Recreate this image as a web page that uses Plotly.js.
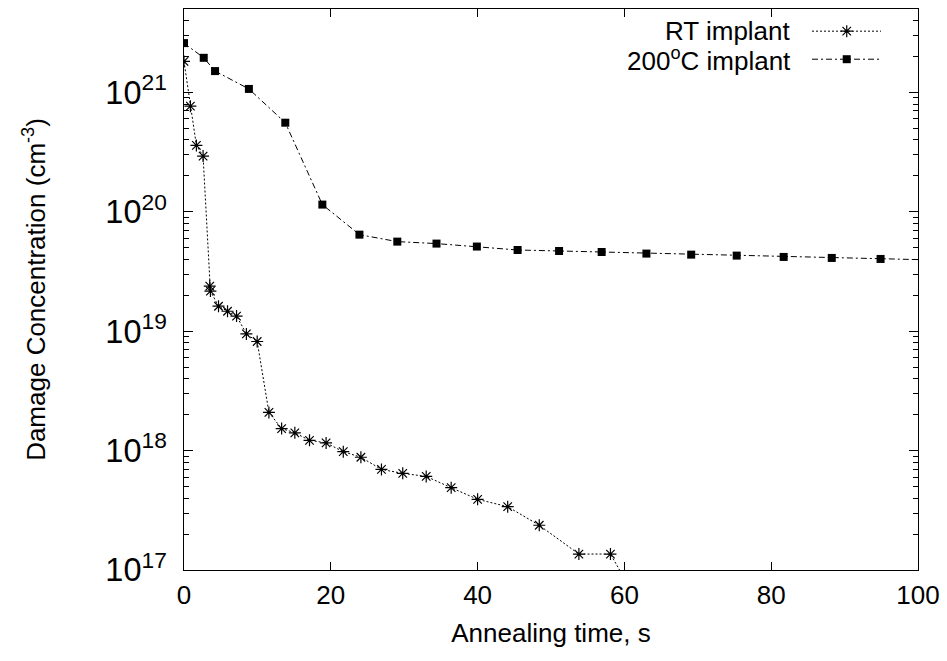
<!DOCTYPE html>
<html>
<head>
<meta charset="utf-8">
<script src="https://cdn.plot.ly/plotly-3.0.1.min.js"></script>
<style>
  html, body { margin: 0; padding: 0; background: #fff; }
  #chart { width: 947px; height: 661px; }
</style>
</head>
<body>
<div id="chart"></div>
<script>
// ---- Data ----
const seriesNames = ["RT implant", "200<sup>o</sup>C implant"];

const rtTime = [0, 0.87, 1.69, 2.6, 3.51, 3.6, 4.7, 5.93, 7.16, 8.5, 9.97,
  11.57, 13.3, 15.1, 17.1, 19.36, 21.7, 24.1, 26.9, 29.8, 33.0, 36.4, 40.0,
  44.1, 48.4, 53.8, 58.1, 60.0];
const rtConc = [1.82e21, 7.67e20, 3.6e20, 2.93e20, 2.39e19, 2.17e19, 1.62e19,
  1.47e19, 1.34e19, 9.5e18, 8.2e18, 2.09e18, 1.53e18, 1.41e18, 1.22e18,
  1.16e18, 9.8e17, 8.8e17, 6.96e17, 6.45e17, 6.08e17, 4.89e17, 3.91e17,
  3.39e17, 2.37e17, 1.36e17, 1.36e17, 8.5e16];

const hotTime = [0, 2.69, 4.23, 8.84, 13.8, 18.85, 23.9, 29.06, 34.4, 39.9,
  45.45, 51.1, 56.9, 63.0, 69.1, 75.3, 81.7, 88.25, 94.9, 101.5];
const hotConc = [2.59e21, 1.95e21, 1.51e21, 1.07e21, 5.58e20, 1.15e20,
  6.44e19, 5.63e19, 5.42e19, 5.12e19, 4.79e19, 4.70e19, 4.61e19, 4.47e19,
  4.38e19, 4.30e19, 4.19e19, 4.11e19, 4.03e19, 3.96e19];

const xTitle = "Annealing time, s";
const yTitle = "Damage Concentration (cm<sup>-3</sup>)";

// ---- Styles ----
const FONT = "Liberation Sans, Arial, Helvetica, sans-serif";
const FS = 26;
const rtStyle = {
  line: { color: "#000", width: 1, dash: "2px,2px" },
  marker: { symbol: "asterisk-open", size: 10, color: "#000", line: { color: "#000", width: 1.2 } }
};
const hotStyle = {
  line: { color: "#000", width: 1, dash: "6px,3px,2px,3px" },
  marker: { symbol: "square", size: 8, color: "#000", line: { width: 0 } }
};

// legend key placement (in a 0..1 helper frame spanning the plot area)
const legendKey = { x0: 0.8556, x1: 0.9496, xm: 0.9029, rows: [0.9605, 0.9105], textX: 0.8293 };

const traces = [
  Object.assign({ x: rtTime, y: rtConc, type: "scatter", mode: "lines+markers",
    name: seriesNames[0], showlegend: false, xaxis: "x", yaxis: "y" }, rtStyle),
  Object.assign({ x: hotTime, y: hotConc, type: "scatter", mode: "lines+markers",
    name: seriesNames[1], showlegend: false, xaxis: "x", yaxis: "y" }, hotStyle),
  // legend keys (line + marker), drawn on a hidden helper frame
  Object.assign({ x: [legendKey.x0, legendKey.x1], y: [legendKey.rows[0], legendKey.rows[0]],
    type: "scatter", mode: "lines", showlegend: false, hoverinfo: "skip",
    xaxis: "x2", yaxis: "y2" }, { line: rtStyle.line }),
  Object.assign({ x: [legendKey.xm], y: [legendKey.rows[0]], type: "scatter", mode: "markers",
    showlegend: false, hoverinfo: "skip", xaxis: "x2", yaxis: "y2" }, { marker: rtStyle.marker }),
  Object.assign({ x: [legendKey.x0, legendKey.x1], y: [legendKey.rows[1], legendKey.rows[1]],
    type: "scatter", mode: "lines", showlegend: false, hoverinfo: "skip",
    xaxis: "x2", yaxis: "y2" }, { line: hotStyle.line }),
  Object.assign({ x: [legendKey.xm], y: [legendKey.rows[1]], type: "scatter", mode: "markers",
    showlegend: false, hoverinfo: "skip", xaxis: "x2", yaxis: "y2" }, { marker: hotStyle.marker })
];

const layout = {
  width: 947, height: 661,
  margin: { l: 184, r: 29, t: 9, b: 91 },
  paper_bgcolor: "#fff", plot_bgcolor: "#fff",
  font: { family: FONT, size: FS, color: "#000" },
  showlegend: false,
  xaxis: {
    range: [0, 100], dtick: 20, tick0: 0,
    showline: true, linecolor: "#000", linewidth: 1, mirror: "allticks",
    ticks: "inside", ticklen: 8, tickwidth: 1, tickcolor: "#000",
    showgrid: false, zeroline: false,
    ticklabelstandoff: 2,
    tickfont: { family: FONT, size: FS },
    title: { text: xTitle, standoff: 14, font: { family: FONT, size: FS } }
  },
  yaxis: {
    type: "log", range: [17, Math.log10(5e21)], dtick: 1,
    exponentformat: "power", showexponent: "all",
    showline: true, linecolor: "#000", linewidth: 1, mirror: "allticks",
    ticks: "inside", ticklen: 9, tickwidth: 1, tickcolor: "#000",
    minor: { ticks: "inside", ticklen: 5, tickwidth: 1, tickcolor: "#000", dtick: "D1", showgrid: false },
    showgrid: false, zeroline: false,
    ticklabelstandoff: 11,
    tickfont: { family: FONT, size: FS },
    title: { text: yTitle, standoff: 52, font: { family: FONT, size: FS } }
  },
  xaxis2: { range: [0, 1], overlaying: "x", anchor: "y2", visible: false, fixedrange: true },
  yaxis2: { range: [0, 1], overlaying: "y", anchor: "x2", visible: false, fixedrange: true },
  annotations: [
    { xref: "x2", yref: "y2", x: legendKey.textX, y: legendKey.rows[0], text: seriesNames[0],
      showarrow: false, xanchor: "right", yanchor: "middle", font: { family: FONT, size: FS } },
    { xref: "x2", yref: "y2", x: legendKey.textX, y: legendKey.rows[1], text: seriesNames[1],
      showarrow: false, xanchor: "right", yanchor: "middle", font: { family: FONT, size: FS } }
  ]
};

Plotly.newPlot("chart", traces, layout, { staticPlot: true, displayModeBar: false });
</script>
</body>
</html>
